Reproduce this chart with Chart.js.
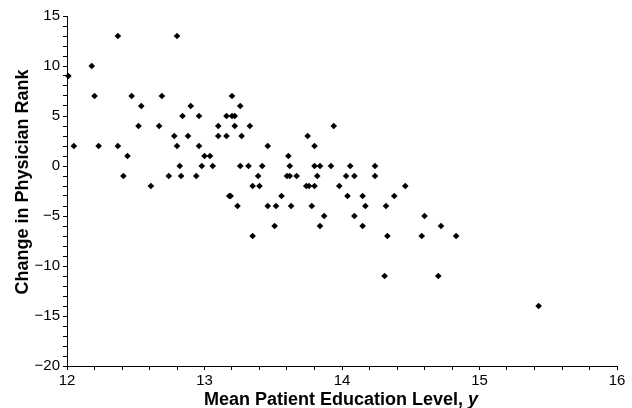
<!DOCTYPE html>
<html>
<head>
<meta charset="utf-8">
<script src="https://cdn.jsdelivr.net/npm/chart.js@4/dist/chart.umd.min.js"></script>
<style>
  html, body { margin: 0; padding: 0; background: #fff; }
  #chart { display: block; }
</style>
</head>
<body>
<canvas id="chart" width="632" height="408"></canvas>
<script>
// mean patient education level (x) and change in physician rank (y), read row by row
const educationLevel = [
  12.37, 12.80,
  12.18,
  12.01,
  12.20, 12.47, 12.69, 13.20,
  12.54, 12.90, 13.26,
  12.84, 12.96, 13.16, 13.20, 13.22,
  12.52, 12.67, 13.10, 13.22, 13.33, 13.94,
  12.78, 12.88, 13.10, 13.16, 13.27, 13.75,
  12.05, 12.23, 12.37, 12.80, 12.96, 13.46, 13.80,
  12.44, 13.00, 13.04, 13.61,
  12.82, 12.98, 13.06, 13.26, 13.32, 13.42, 13.62, 13.80, 13.84, 13.92, 14.06, 14.24,
  12.41, 12.74, 12.83, 12.94, 13.39, 13.60, 13.62, 13.67, 13.82, 14.03, 14.09, 14.24,
  12.61, 13.35, 13.40, 13.74, 13.76, 13.80, 13.98, 14.46,
  13.18, 13.19, 13.56, 14.04, 14.15, 14.38,
  13.24, 13.46, 13.52, 13.63, 13.78, 14.17, 14.32,
  13.87, 14.09, 14.60,
  13.51, 13.84, 14.15, 14.72,
  13.35, 14.33, 14.58, 14.83,
  14.31, 14.70,
  15.43,
];
const rankChange = [
  13, 13,
  10,
  9,
  7, 7, 7, 7,
  6, 6, 6,
  5, 5, 5, 5, 5,
  4, 4, 4, 4, 4, 4,
  3, 3, 3, 3, 3, 3,
  2, 2, 2, 2, 2, 2, 2,
  1, 1, 1, 1,
  0, 0, 0, 0, 0, 0, 0, 0, 0, 0, 0, 0,
  -1, -1, -1, -1, -1, -1, -1, -1, -1, -1, -1, -1,
  -2, -2, -2, -2, -2, -2, -2, -2,
  -3, -3, -3, -3, -3, -3,
  -4, -4, -4, -4, -4, -4, -4,
  -5, -5, -5,
  -6, -6, -6, -6,
  -7, -7, -7, -7,
  -11, -11,
  -14,
];
const xMajorTicks = [12, 13, 14, 15, 16];
const yMajorTicks = [-20, -15, -10, -5, 0, 5, 10, 15];

const FONT = '"Liberation Sans", Arial, Helvetica, sans-serif';
const points = educationLevel.map((x, i) => ({ x, y: rankChange[i] }));

/** bold axis titles, the x one with an italic y */
const axisTitles = {
  id: 'axisTitles',
  afterDraw(chart) {
    const { ctx, chartArea } = chart;
    ctx.save();
    ctx.fillStyle = '#000';
    ctx.textBaseline = 'alphabetic';

    const main = 'Mean Patient Education Level, ';
    const sym = 'y';
    ctx.font = `bold 18px ${FONT}`;
    const w1 = ctx.measureText(main).width;
    ctx.font = `italic bold 18px ${FONT}`;
    const w2 = ctx.measureText(sym).width;
    const cx = (chartArea.left + chartArea.right) / 2 - 1;
    let x0 = cx - (w1 + w2) / 2;
    ctx.textAlign = 'left';
    ctx.font = `bold 18px ${FONT}`;
    ctx.fillText(main, x0, 405);
    ctx.font = `italic bold 18px ${FONT}`;
    ctx.fillText(sym, x0 + w1, 405);

    ctx.translate(28, 182);
    ctx.rotate(-Math.PI / 2);
    ctx.textAlign = 'center';
    ctx.font = `bold 18px ${FONT}`;
    ctx.fillText('Change in Physician Rank', 0, 0);
    ctx.restore();
  },
};

new Chart(document.getElementById('chart'), {
  type: 'scatter',
  data: {
    datasets: [{
      data: points,
      pointStyle: 'rectRot',
      pointRadius: 3.3,
      pointHoverRadius: 3.3,
      backgroundColor: '#000',
      borderColor: '#000',
      borderWidth: 0,
      clip: false,
    }],
  },
  options: {
    responsive: false,
    animation: false,
    events: [],
    layout: { padding: { top: 16, right: 15, left: 0, bottom: 0 } },
    plugins: {
      legend: { display: false },
      tooltip: { enabled: false },
    },
    scales: {
      x: {
        type: 'linear',
        min: 12,
        max: 16,
        afterFit: (s) => { s.height = 42; },
        border: { display: true, color: '#000', width: 1 },
        grid: { drawOnChartArea: false, drawTicks: true, tickLength: 4, color: '#000', tickColor: '#000' },
        ticks: {
          stepSize: 0.2,
          autoSkip: false,
          maxRotation: 0,
          padding: 2,
          color: '#000',
          font: { family: FONT, size: 15 },
          callback: (v) => (xMajorTicks.includes(Math.round(v * 100) / 100) ? String(Math.round(v)) : ''),
        },
      },
      y: {
        type: 'linear',
        min: -20,
        max: 15,
        afterFit: (s) => { s.width = 67; },
        border: { display: true, color: '#000', width: 1 },
        grid: { drawOnChartArea: false, drawTicks: true, tickLength: 4, color: '#000', tickColor: '#000' },
        ticks: {
          stepSize: 1,
          autoSkip: false,
          padding: 3,
          color: '#000',
          font: { family: FONT, size: 15 },
          callback: (v) => (yMajorTicks.includes(v) ? String(v).replace('-', '\u2212') : ''),
        },
      },
    },
  },
  plugins: [axisTitles],
});
</script>
</body>
</html>
